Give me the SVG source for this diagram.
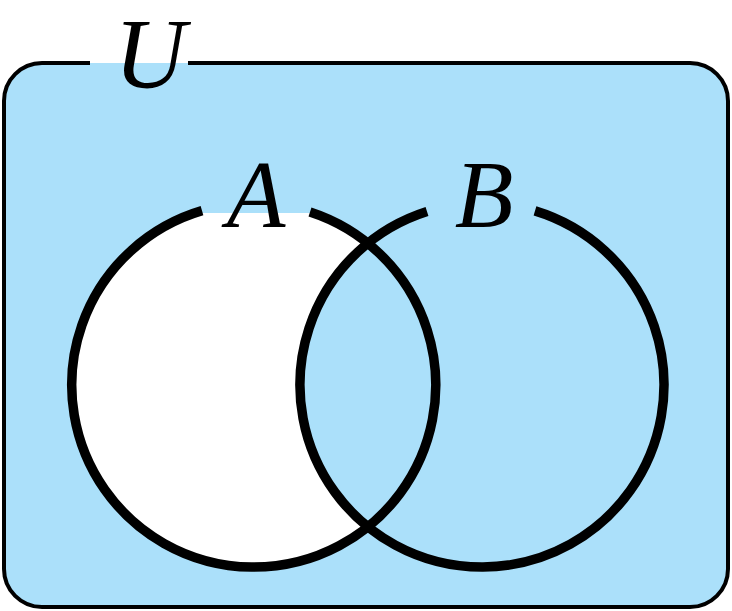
<svg xmlns="http://www.w3.org/2000/svg" width="732" height="611" viewBox="0 0 732 611">
<style>
.lbl{font-family:"Liberation Serif","DejaVu Serif",serif;font-style:italic;fill:#000;text-anchor:middle}
.ring{fill:none;stroke:#000;stroke-width:9.5;stroke-linecap:butt}
.bg{fill:#ABE0FA}
</style>
<defs>
<mask id="aMinusB" maskUnits="userSpaceOnUse" x="0" y="0" width="732" height="611">
<circle cx="254" cy="385" r="182" fill="#fff"/>
<circle cx="482" cy="385" r="182" fill="#000"/>
</mask>
</defs>
<g id="universe">
<rect class="bg" x="4" y="63" width="724" height="544" rx="38" ry="38"/>
<path d="M188,63 H690 A38,38 0 0 1 728,101 V569 A38,38 0 0 1 690,607 H42 A38,38 0 0 1 4,569 V101 A38,38 0 0 1 42,63 H90" fill="none" stroke="#000" stroke-width="4"/>
<text class="lbl" x="150" y="87" font-size="99">U</text>
</g>
<g id="setA">
<circle cx="254" cy="385" r="182" fill="#fff" mask="url(#aMinusB)"/>
<rect class="bg" x="200" y="150" width="112" height="63"/>
<path class="ring" d="M202,210.6 A182,182 0 1 0 310,212"/>
<text class="lbl" x="256" y="227" font-size="96">A</text>
</g>
<g id="setB">
<path class="ring" d="M427,211.5 A182,182 0 1 0 535,210.9"/>
<text class="lbl" x="484" y="227" font-size="96">B</text>
</g>
</svg>
